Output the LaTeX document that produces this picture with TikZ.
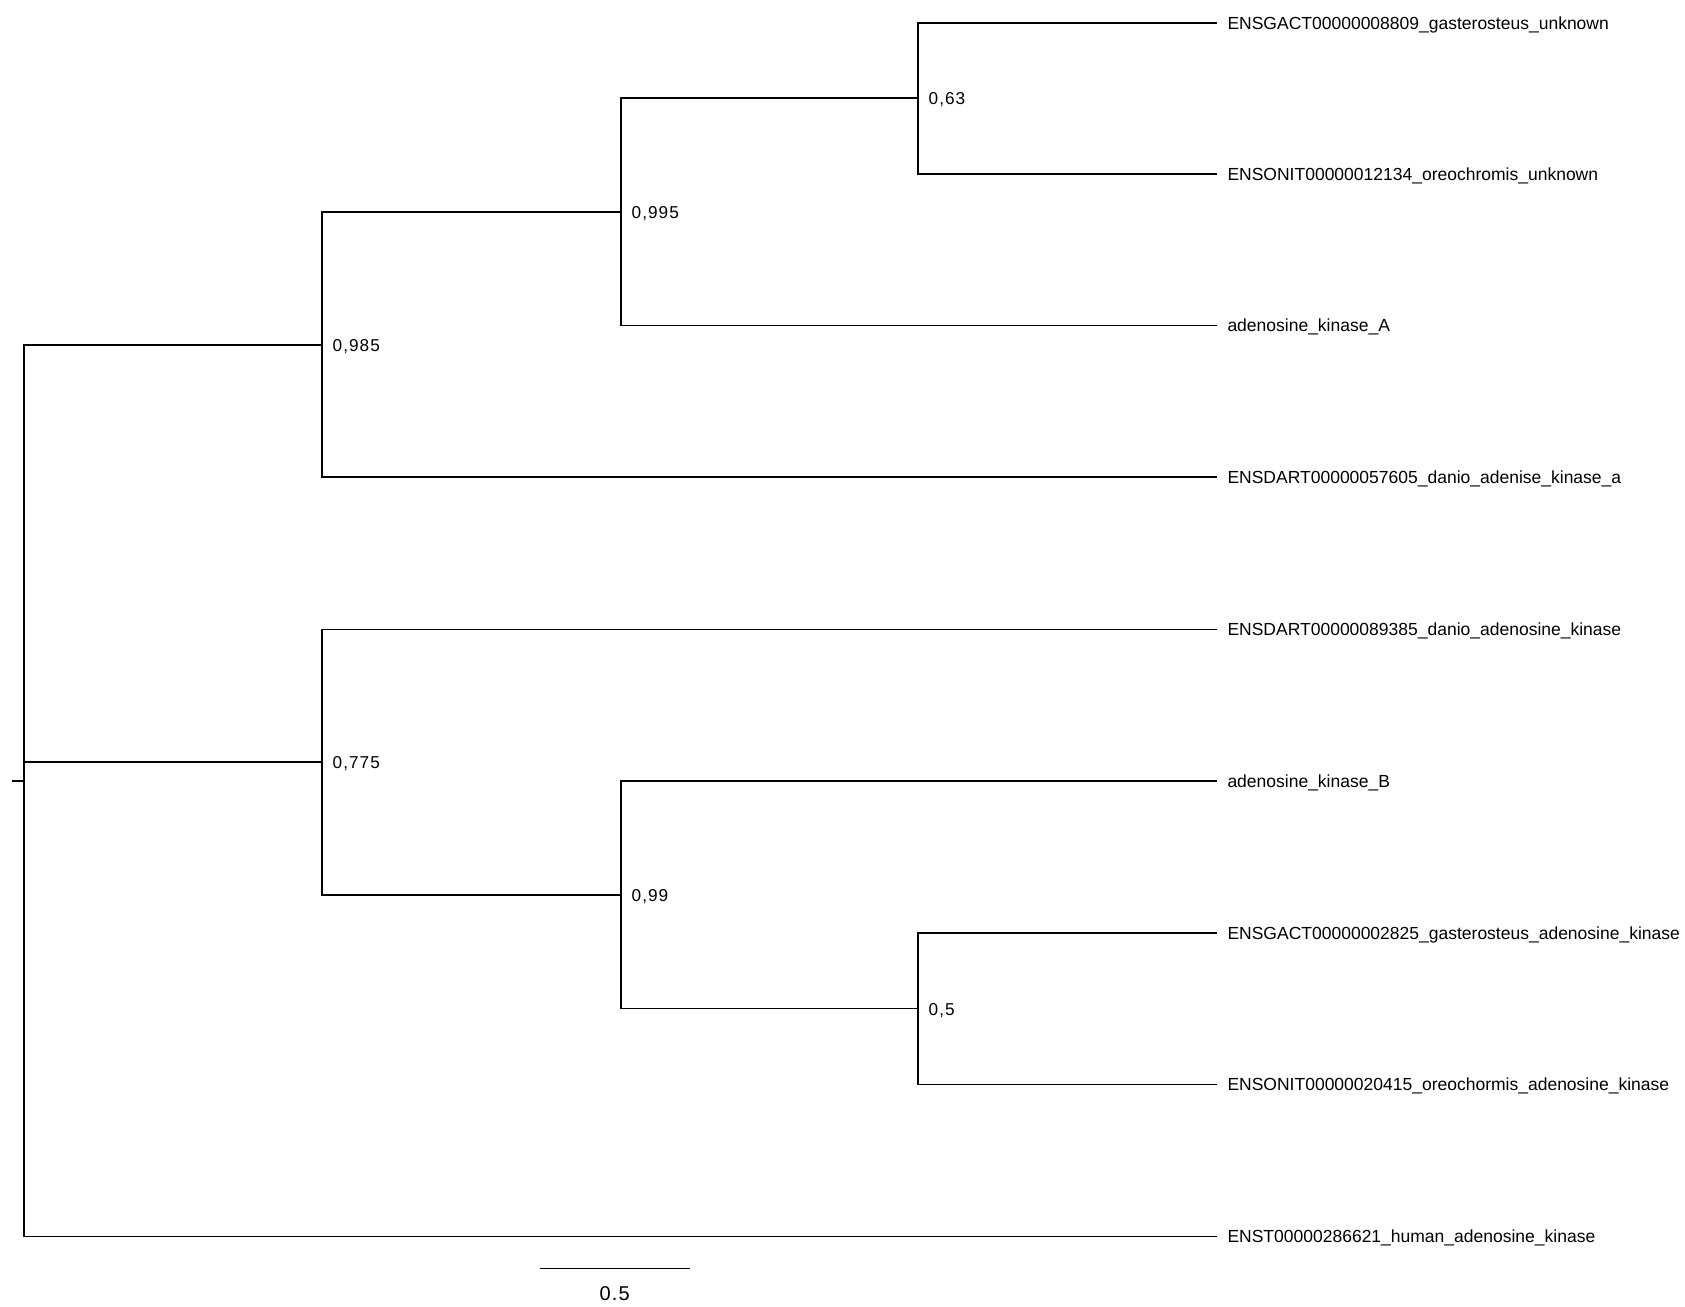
\documentclass[tikz,border=0pt]{standalone}
\usepackage{fontspec}
\setmainfont{Liberation Sans}
\newfontfamily\numfont[LetterSpace=6]{Liberation Sans}
\begin{document}
\begin{tikzpicture}[x=1pt,y=-1pt,
  branch/.style={draw=black, line width=1.9pt, line join=miter},
  leaflabel/.style={anchor=base west, inner sep=0pt, text=black, font=\fontsize{17.5}{20}\selectfont},
  support/.style={anchor=base west, inner sep=0pt, text=black, font=\numfont\fontsize{17.2}{20}\selectfont},
  scalelabel/.style={anchor=base, inner sep=0pt, text=black, font=\numfont\fontsize{20}{22}\selectfont}]
\useasboundingbox (0,0) rectangle (1685,1306);
% internal nodes
\coordinate (root) at (24,781);
\coordinate (stub) at (12,781);
\coordinate (n985) at (322,345);
\coordinate (n995) at (621,212);
\coordinate (n63)  at (918,98);
\coordinate (n775) at (322,762);
\coordinate (n99)  at (621,895);
\coordinate (n5)   at (918,1008.5);
% leaves
\coordinate (l1) at (1216.5,23);
\coordinate (l2) at (1216.5,174);
\coordinate (l3) at (1216.5,325.5);
\coordinate (l4) at (1216.5,477);
\coordinate (l5) at (1216.5,629.5);
\coordinate (l6) at (1216.5,781);
\coordinate (l7) at (1216.5,933);
\coordinate (l8) at (1216.5,1084.5);
\coordinate (l9) at (1216.5,1236.5);
% branches
\draw[branch] (stub) -- (root);
\draw[branch] (root) |- (n985);
\draw[branch] (root) |- (n775);
\draw[branch] (root) |- (l9);
\draw[branch] (n985) |- (n995);
\draw[branch] (n985) |- (l4);
\draw[branch] (n995) |- (n63);
\draw[branch] (n995) |- (l3);
\draw[branch] (n63) |- (l1);
\draw[branch] (n63) |- (l2);
\draw[branch] (n775) |- (l5);
\draw[branch] (n775) |- (n99);
\draw[branch] (n99) |- (l6);
\draw[branch] (n99) |- (n5);
\draw[branch] (n5) |- (l7);
\draw[branch] (n5) |- (l8);
% leaf labels
\node[leaflabel] (t1) at ([xshift=10.8pt,yshift=-6.4pt]l1) {ENSGACT00000008809\_gasterosteus\_unknown};
\node[leaflabel] (t2) at ([xshift=10.8pt,yshift=-6.4pt]l2) {ENSONIT00000012134\_oreochromis\_unknown};
\node[leaflabel] (t3) at ([xshift=10.8pt,yshift=-6.4pt]l3) {adenosine\_kinase\_A};
\node[leaflabel] (t4) at ([xshift=10.8pt,yshift=-6.4pt]l4) {ENSDART00000057605\_danio\_adenise\_kinase\_a};
\node[leaflabel] (t5) at ([xshift=10.8pt,yshift=-6.4pt]l5) {ENSDART00000089385\_danio\_adenosine\_kinase};
\node[leaflabel] (t6) at ([xshift=10.8pt,yshift=-6.4pt]l6) {adenosine\_kinase\_B};
\node[leaflabel] (t7) at ([xshift=10.8pt,yshift=-6.4pt]l7) {ENSGACT00000002825\_gasterosteus\_adenosine\_kinase};
\node[leaflabel] (t8) at ([xshift=10.8pt,yshift=-6.4pt]l8) {ENSONIT00000020415\_oreochormis\_adenosine\_kinase};
\node[leaflabel] (t9) at ([xshift=10.8pt,yshift=-6.4pt]l9) {ENST00000286621\_human\_adenosine\_kinase};
% support values
\node[support] (s985) at ([xshift=10.5pt,yshift=-6.8pt]n985) {0,985};
\node[support] (s995) at ([xshift=10.5pt,yshift=-6.8pt]n995) {0,995};
\node[support] (s63)  at ([xshift=10.5pt,yshift=-6.8pt]n63) {0,63};
\node[support] (s775) at ([xshift=10.5pt,yshift=-6.8pt]n775) {0,775};
\node[support] (s99)  at ([xshift=10.5pt,yshift=-6.8pt]n99) {0,99};
\node[support] (s5)   at ([xshift=10.5pt,yshift=-6.8pt]n5) {0,5};
% scale bar
\coordinate (sb1) at (539.5,1268.5);
\coordinate (sb2) at (690,1268.5);
\draw[branch] (sb1) -- (sb2);
\node[scalelabel] (sbl) at (614.6,1300) {0.5};
\end{tikzpicture}
\end{document}
